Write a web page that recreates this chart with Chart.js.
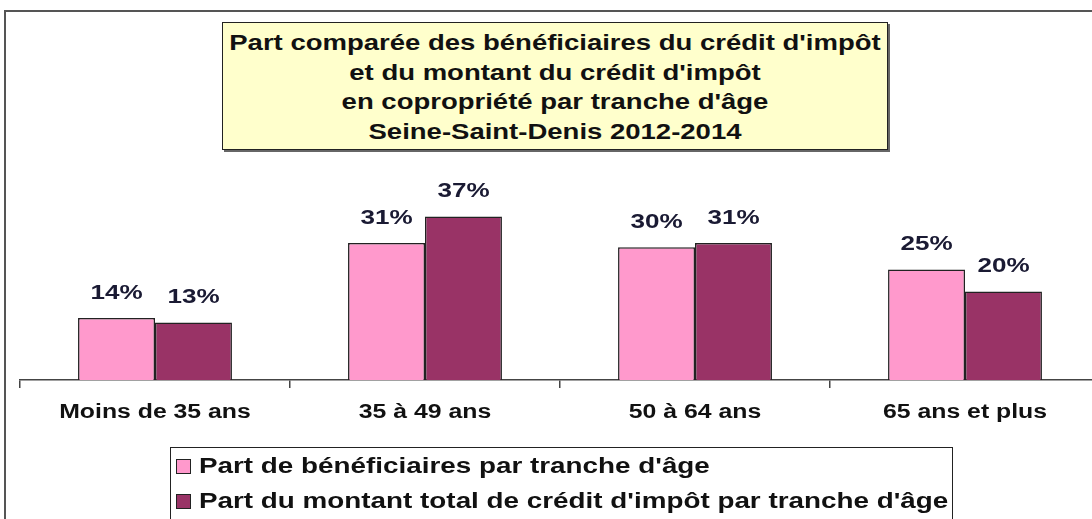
<!DOCTYPE html>
<html>
<head>
<meta charset="utf-8">
<script src="https://cdn.jsdelivr.net/npm/chart.js"></script>
<style>
  html, body { margin: 0; padding: 0; background: #fff; overflow: hidden; }
  body { width: 1092px; height: 519px; position: relative; font-family: "Liberation Sans", Arial, sans-serif; }
  #frame { position: absolute; left: 4px; top: 10px; width: 1100px; height: 520px; border-left: 2px solid #555; border-top: 2px solid #555; }
  #wrap { position: absolute; left: 0; top: 0; width: 1120px; height: 519px; }
  #titleBox { position: absolute; left: 222px; top: 22px; width: 666px; height: 128px; background: #ffffcc; border: 1.5px solid #222;
    box-shadow: 2px 2px 0 #666; text-align: center; font-weight: bold; font-size: 22px; line-height: 29.5px; padding-top: 5px; box-sizing: border-box; color: #111; }
  #titleBox div { transform: scaleX(1.25); transform-origin: center; white-space: nowrap; }
  #legendBox { position: absolute; left: 170px; top: 447px; width: 783px; height: 90px; border: 1.5px solid #222; box-sizing: border-box; }
  .item { position: absolute; left: 5px; font-weight: bold; font-size: 22px; color: #111; white-space: nowrap; line-height: 26px; }
  .item span.sw { display: inline-block; width: 15px; height: 15px; border: 1.5px solid #222; margin-right: 8px; vertical-align: -1px; box-sizing: border-box; }
  .item span.tx { display: inline-block; transform: scaleX(1.265); transform-origin: left; }
</style>
</head>
<body>
<div id="frame"></div>
<div id="titleBox"></div>
<div id="wrap"><canvas id="chart" width="1120" height="519"></canvas></div>
<div id="legendBox"></div>
<script>
// data
var titleLines = ["Part comparée des bénéficiaires du crédit d'impôt", "et du montant du crédit d'impôt", "en copropriété par tranche d'âge", "Seine-Saint-Denis 2012-2014"];
var categories = ["Moins de 35 ans", "35 à 49 ans", "50 à 64 ans", "65 ans et plus"];
var seriesNames = ["Part de bénéficiaires par tranche d'âge", "Part du montant total de crédit d'impôt par tranche d'âge"];
var beneficiaires = [14, 31, 30, 25];
var montant = [13, 37, 31, 20];
var colors = ["#ff99cc", "#993366"];

// the source picture is stretched horizontally, text is drawn wider
var STRETCH = 1.24;

var titleBox = document.getElementById("titleBox");
titleLines.forEach(function(t) {
  var d = document.createElement("div");
  d.textContent = t;
  titleBox.appendChild(d);
});

var legendBox = document.getElementById("legendBox");
for (var i = 0; i < seriesNames.length; i++) {
  var d = document.createElement("div");
  d.className = "item";
  d.style.top = (5 + i * 35) + "px";
  d.innerHTML = '<span class="sw" style="background:' + colors[i] + '"></span><span class="tx"></span>';
  d.querySelector(".tx").textContent = seriesNames[i];
  legendBox.appendChild(d);
}

function stretchedText(ctx, text, x, y) {
  ctx.save();
  ctx.translate(x, y);
  ctx.scale(STRETCH, 1);
  ctx.fillText(text, 0, 0);
  ctx.restore();
}

// value labels above bars + stretched category labels
var textPlugin = {
  id: 'textPlugin',
  afterDatasetsDraw: function(chart) {
    var ctx = chart.ctx;
    ctx.save();
    ctx.textAlign = "center";
    ctx.textBaseline = "middle";
    ctx.font = "bold 21px 'Liberation Sans', Arial, sans-serif";
    ctx.fillStyle = "#1a1a33";
    chart.data.datasets.forEach(function(ds, di) {
      chart.getDatasetMeta(di).data.forEach(function(bar, j) {
        stretchedText(ctx, ds.data[j] + "%", bar.x, bar.y - 25);
      });
    });
    ctx.font = "bold 20px 'Liberation Sans', Arial, sans-serif";
    ctx.fillStyle = "#111";
    var xs = chart.scales.x;
    categories.forEach(function(c, j) {
      stretchedText(ctx, c, xs.getPixelForValue(j), chart.chartArea.bottom + 32);
    });
    ctx.restore();
  }
};

var ctx = document.getElementById("chart").getContext("2d");
var chart = new Chart(ctx, {
  type: 'bar',
  data: {
    labels: categories,
    datasets: [
      { label: seriesNames[0], data: beneficiaires, backgroundColor: colors[0], borderColor: "#222", borderWidth: 1.5,
        categoryPercentage: 0.57, barPercentage: 1.0 },
      { label: seriesNames[1], data: montant, backgroundColor: colors[1], borderColor: "#222", borderWidth: 1.5,
        categoryPercentage: 0.57, barPercentage: 1.0 }
    ]
  },
  options: {
    responsive: false,
    animation: false,
    layout: { padding: { left: 20, right: 20, top: 181, bottom: 0 } },
    plugins: { legend: { display: false }, tooltip: { enabled: false } },
    scales: {
      x: {
        afterFit: function(scale) { scale.height = 139; },
        grid: { offset: true, drawOnChartArea: false, tickLength: 8, color: "#444", lineWidth: 1.5 },
        border: { color: "#444", width: 1.5 },
        ticks: { color: "rgba(0,0,0,0)", padding: 14, font: { size: 17 } }
      },
      y: { display: false, min: 0, max: 45 }
    }
  },
  plugins: [textPlugin]
});
</script>
</body>
</html>
